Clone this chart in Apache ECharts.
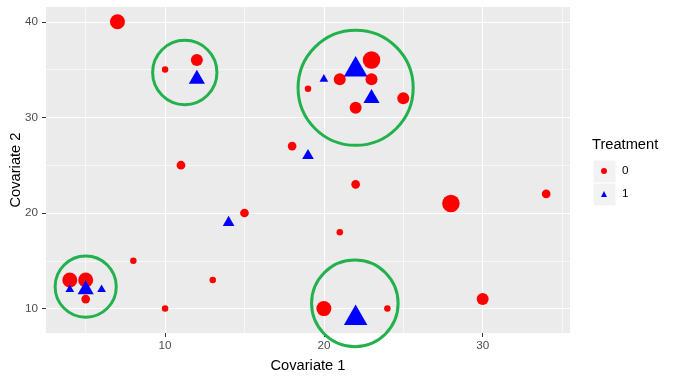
<!DOCTYPE html>
<html>
<head>
<meta charset="utf-8">
<title>Treatment scatter</title>
<script src="https://cdn.jsdelivr.net/npm/echarts@6/dist/echarts.min.js"></script>
<style>
html, body { margin: 0; padding: 0; background: #fff; }
#chart { width: 674px; height: 381px; }
</style>
</head>
<body>
<div id="chart"></div>
<script>
// Treatment 0 (red circles): covariate 1, covariate 2, weight
var ctrlX = [7, 10, 12, 11, 18, 19, 21, 23, 23, 22, 25, 22, 21, 28, 34, 30, 20, 24, 15, 8, 13, 10, 4, 5, 5];
var ctrlY = [40, 35, 36, 25, 27, 33, 34, 36, 34, 31, 32, 23, 18, 21, 22, 11, 10, 10, 20, 15, 13, 10, 13, 13, 11];
var ctrlW = [4, 1, 3, 2, 2, 1, 3, 5, 3, 3, 3, 2, 1, 5, 2, 3, 4, 1, 2, 1, 1, 1, 4, 4, 2];

// Treatment 1 (blue triangles)
var treatX = [12, 19, 20, 22, 23, 14, 4, 5, 6, 22];
var treatY = [34, 26, 34, 35, 32, 19, 12, 12, 12, 9];
var treatW = [3, 2, 1, 5, 3, 2, 1, 3, 1, 5];

// matched groups circled by hand: centre and diameter in covariate-1 units
var ringX = [11.24, 22.0, 5.0, 21.95];
var ringY = [34.7, 33.1, 12.3, 10.55];
var ringD = [4.05, 7.25, 3.85, 5.45];

var xMajor = [10, 20, 30];
var xMinor = [5, 15, 25, 35];
var yMajor = [10, 20, 30, 40];
var yMinor = [15, 25, 35];

var FONT = '"Liberation Sans", Arial, sans-serif';
var sizeByWeight = {1: 6.5, 2: 8.7, 3: 12, 4: 15, 5: 17.5};

function circleItems(xs, ys, ws) {
    return xs.map(function (x, i) {
        return { value: [x, ys[i], ws[i]], symbolSize: sizeByWeight[ws[i]] };
    });
}

function triangleItems(xs, ys, ws) {
    return xs.map(function (x, i) {
        var d = sizeByWeight[ws[i]];
        // R's pch 17 sits on its centroid, not on the box centre
        return { value: [x, ys[i], ws[i]], symbolSize: [d * 1.345, d * 1.166], symbolOffset: [0, -d * 0.195] };
    });
}

function ringItems(unitPx) {
    return ringX.map(function (x, i) {
        return { value: [x, ringY[i]], symbolSize: ringD[i] * unitPx };
    });
}

var chart = echarts.init(document.getElementById("chart"), null, { renderer: 'canvas' });

var option = {
    animation: false,
    backgroundColor: '#ffffff',
    grid: {
        left: 46, right: 104, top: 7, bottom: 48,
        outerBoundsMode: 'none', containLabel: false,
        show: true, backgroundColor: '#EBEBEB', borderWidth: 0
    },
    xAxis: [{
        type: 'value', min: 2.5, max: 35.5,
        name: 'Covariate 1', nameLocation: 'middle', nameGap: 25, nameMoveOverlap: false,
        nameTextStyle: { color: '#000', fontSize: 14.67, fontFamily: FONT },
        axisLine: { show: false },
        axisTick: { show: true, customValues: xMajor, length: 4, lineStyle: { color: '#333', width: 1 } },
        axisLabel: { customValues: xMajor, margin: 7, color: '#4D4D4D', fontSize: 11.7, fontFamily: FONT },
        splitLine: { show: true, lineStyle: { color: '#fff', width: 1.1 } }
    }, {
        type: 'value', min: 2.5, max: 35.5, position: 'top',
        axisLine: { show: false },
        axisTick: { show: false, customValues: xMinor },
        axisLabel: { show: false },
        splitLine: { show: true, lineStyle: { color: '#fff', width: 0.6 } }
    }],
    yAxis: [{
        type: 'value', min: 7.45, max: 41.55,
        name: 'Covariate 2', nameLocation: 'middle', nameGap: 23, nameMoveOverlap: false,
        nameTextStyle: { color: '#000', fontSize: 14.67, fontFamily: FONT },
        axisLine: { show: false },
        axisTick: { show: true, customValues: yMajor, length: 4, lineStyle: { color: '#333', width: 1 } },
        axisLabel: { customValues: yMajor, margin: 8, color: '#4D4D4D', fontSize: 11.7, fontFamily: FONT },
        splitLine: { show: true, lineStyle: { color: '#fff', width: 1.1 } }
    }, {
        type: 'value', min: 7.45, max: 41.55, position: 'right',
        axisLine: { show: false },
        axisTick: { show: false, customValues: yMinor },
        axisLabel: { show: false },
        splitLine: { show: true, lineStyle: { color: '#fff', width: 0.6 } }
    }],
    legend: {
        orient: 'vertical', left: 601, top: 159.5, padding: 0,
        itemWidth: 6, itemHeight: 6, itemGap: 0, z: 5,
        textStyle: { color: '#000', fontSize: 11.7, fontFamily: FONT, lineHeight: 23, padding: [0, 0, 0, 10] },
        data: [{ name: '0', icon: 'circle' }, { name: '1', icon: 'triangle' }]
    },
    graphic: [
        { type: 'text', left: 592, top: 137, z: 1,
          style: { text: 'Treatment', fill: '#000', fontSize: 14.67, fontFamily: FONT } },
        { type: 'rect', left: 592.5, top: 159.5, z: 1,
          shape: { width: 23, height: 23 }, style: { fill: '#F2F2F2', stroke: '#fff', lineWidth: 1 } },
        { type: 'rect', left: 592.5, top: 182.5, z: 1,
          shape: { width: 23, height: 23 }, style: { fill: '#F2F2F2', stroke: '#fff', lineWidth: 1 } }
    ],
    series: [{
        name: '0', type: 'scatter', symbol: 'circle',
        itemStyle: { color: '#FF0000', opacity: 1 },
        data: circleItems(ctrlX, ctrlY, ctrlW)
    }, {
        name: '1', type: 'scatter', symbol: 'triangle',
        itemStyle: { color: '#0000FF', opacity: 1 },
        data: triangleItems(treatX, treatY, treatW)
    }, {
        name: 'rings', type: 'scatter', symbol: 'circle', silent: true, z: 4,
        itemStyle: { color: 'rgba(0,0,0,0)', borderColor: '#22B14C', borderWidth: 3, opacity: 1 },
        data: []
    }]
};

chart.setOption(option);

var unitPx = chart.convertToPixel({ xAxisIndex: 0 }, 1) - chart.convertToPixel({ xAxisIndex: 0 }, 0);
chart.setOption({ series: [{}, {}, { data: ringItems(unitPx) }] });
</script>
</body>
</html>
